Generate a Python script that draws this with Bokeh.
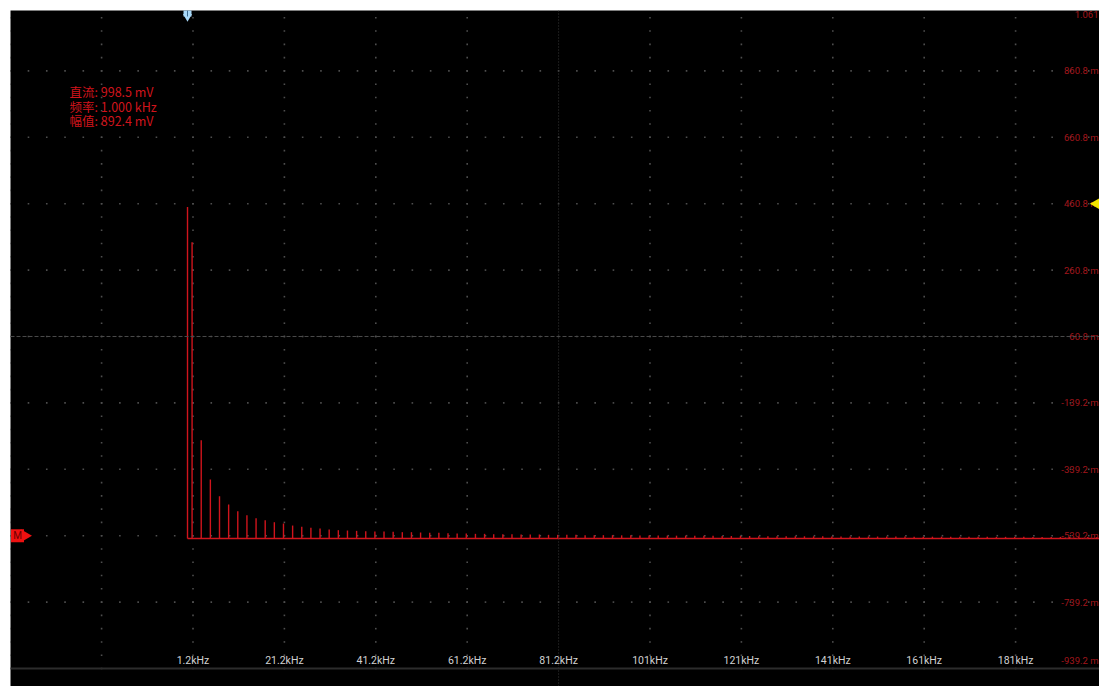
import numpy as np
from bokeh.plotting import figure
from bokeh.models import Range1d, Span, ColumnDataSource
from bokeh.core.properties import value
from bokeh.embed import file_html
from bokeh.resources import INLINE

# ---------------- data ----------------
# frequency of each spectral line (kHz): DC, then the odd harmonics of 1 kHz
harmonic_khz = [0, 1, 3, 5, 7, 9, 11, 13, 15, 17, 19, 21, 23, 25, 27, 29, 31, 33, 35, 37, 39,
                41, 43, 45, 47, 49, 51, 53, 55, 57, 59, 61, 63, 65, 67, 69, 71, 73, 75, 77, 79,
                81, 83, 85, 87, 89, 91, 93, 95, 97, 99, 101, 103, 105, 107, 109, 111, 113, 115,
                117, 119, 121, 123, 125, 127, 129, 131, 133, 135, 137, 139, 141, 143, 145, 147,
                149, 151, 153, 155, 157, 159, 161, 163, 165, 167, 169, 171, 173, 175, 177, 179,
                181, 183, 185, 187, 189, 191, 193, 195, 197, 199]
# line height in mV (display scale 200 mV/div)
amplitude_mv = [998.5, 892.4, 296, 178, 127, 102, 82, 70, 61, 55, 49, 45, 39, 35, 32, 30, 27,
                25, 24, 23, 22, 21, 21, 20, 19, 19, 18, 17, 17, 16, 15, 15, 14, 14, 13, 13, 13,
                12, 12, 12, 11, 11, 11, 11, 10, 10, 10, 10, 9.5, 9.5, 9, 9, 9, 8.5, 8.5, 8.5,
                8, 8, 8, 7.5, 7.5, 7.5, 7.5, 7, 7, 7, 7, 6.8, 6.6, 6.5, 6.4, 6.3, 6.2, 6.1, 6,
                6, 5.9, 5.8, 5.8, 5.7, 5.6, 5.5, 5.5, 5.4, 5.3, 5.3, 5.2, 5.1, 5.1, 5.0, 5.0,
                4.9, 4.9, 4.8, 4.8, 4.7, 4.7, 4.6, 4.6, 4.5, 4.5]

x_grid_khz = [-38.8, -18.8, 1.2, 21.2, 41.2, 61.2, 81.2, 101.2, 121.2, 141.2, 161.2, 181.2, 201.2]
x_label_khz = [1.2, 21.2, 41.2, 61.2, 81.2, 101.2, 121.2, 141.2, 161.2, 181.2]
x_labels = ["1.2kHz", "21.2kHz", "41.2kHz", "61.2kHz", "81.2kHz", "101kHz", "121kHz",
            "141kHz", "161kHz", "181kHz"]

y_grid_mv = [-939.2, -739.2, -539.2, -339.2, -139.2, 60.8, 260.8, 460.8, 660.8, 860.8, 1060.8]
y_labels = ["-939.2 m", "-739.2 m", "-539.2 m", "-339.2 m", "-139.2 m", "60.8 m", "260.8 m",
            "460.8 m", "660.8 m", "860.8 m", "1.061"]

info_lines = ["直流: 998.5 mV", "频率: 1.000 kHz", "幅值: 892.4 mV"]

# ---------------- styling / layout constants ----------------
X_MIN, X_MAX = -38.734, 199.56
Y_MIN, Y_MAX = -993.42, 1042.73
BASE_MV = -547.6          # FFT baseline on screen
CENTER_X, CENTER_Y = 81.2, 60.8
RED = "#d0141c"
LABEL_RED = "#a3161c"

p = figure(width=1099, height=686, x_range=Range1d(X_MIN, X_MAX), y_range=Range1d(Y_MIN, Y_MAX),
           output_backend="svg", toolbar_location=None, x_axis_location=None,
           y_axis_location=None, background_fill_color="black", border_fill_color="white",
           min_border_left=10, min_border_top=10, min_border_right=0, min_border_bottom=0)
p.outline_line_color = None
p.xgrid.visible = False
p.ygrid.visible = False

# ---- graticule dots ----
dot_ys = np.arange(y_grid_mv[0], y_grid_mv[-1] + 1e-6, 40.0)
dot_xs = np.arange(x_grid_khz[0], x_grid_khz[-1] + 1e-6, 4.0)
gx, gy = [], []
for xv in x_grid_khz:
    if abs(xv - CENTER_X) < 1e-6:
        continue
    gx += [xv] * len(dot_ys)
    gy += list(dot_ys)
for yv in y_grid_mv:
    if abs(yv - y_grid_mv[0]) < 1e-6:
        continue
    gx += list(dot_xs)
    gy += [yv] * len(dot_xs)
p.scatter(gx, gy, marker="square", size=1.6, fill_color="#4e4e4e", line_color=None)

# center cross lines and bottom line
p.add_layout(Span(location=CENTER_Y, dimension="width", line_color="#4a4a4a",
                  line_width=1, line_dash="4 2"))
p.add_layout(Span(location=CENTER_X, dimension="height", line_color="#383838",
                  line_width=1, line_dash="1 2"))
p.add_layout(Span(location=y_grid_mv[0], dimension="width", line_color="#2c2c2c",
                  line_width=2))

# ---- spectrum ----
src = ColumnDataSource(dict(
    x=harmonic_khz,
    y0=[BASE_MV] * len(harmonic_khz),
    y1=[BASE_MV + a for a in amplitude_mv],
))
p.segment(x0="x", y0="y0", x1="x", y1="y1", source=src, line_color=RED, line_width=1.4)
p.segment(x0=[harmonic_khz[0]], y0=[BASE_MV], x1=[X_MAX], y1=[BASE_MV],
          line_color=RED, line_width=1.6)

# ---- bottom frequency labels ----
p.text(x=x_label_khz, y=[y_grid_mv[0]] * len(x_label_khz), text=x_labels, y_offset=-8,
       text_align="center", text_baseline="middle", text_font=value("Roboto"),
       text_font_size="10.5px", text_color="#d2d2d2")

# ---- right voltage labels (right-aligned at the screen edge) ----
mid = y_grid_mv[1:-1]
lbl_kw = dict(text_align="right", text_baseline="middle", text_font=value("Roboto"),
              text_font_size="9.5px", text_color=LABEL_RED)
p.text(x=[X_MAX] * len(mid), y=mid, text=y_labels[1:-1], x_offset=-1, **lbl_kw)
p.text(x=[X_MAX], y=[y_grid_mv[0]], text=[y_labels[0]], x_offset=-1, y_offset=-8, **lbl_kw)
p.text(x=[X_MAX], y=[y_grid_mv[-1]], text=[y_labels[-1]], x_offset=-1, y_offset=10, **lbl_kw)

# ---- measurement info ----
info_y = [Y_MAX - 81 / 0.332 - i * 14.6 / 0.332 for i in range(len(info_lines))]
p.text(x=[X_MIN + 59 / 4.57] * len(info_lines), y=info_y, text=info_lines,
       text_align="left", text_baseline="middle", text_font=value("Noto Sans CJK SC"),
       text_font_size="12.5px", text_color=RED)

# ---- screen markers ----
# trigger marker (top, light blue)
p.scatter([harmonic_khz[0]], [Y_MAX - 2 / 0.332], marker="square", size=8,
          fill_color="#a8d8f8", line_color=None)
p.scatter([harmonic_khz[0]], [Y_MAX - 6 / 0.332], marker="inverted_triangle", size=9,
          fill_color="#a8d8f8", line_color=None)
p.segment(x0=[harmonic_khz[0]], y0=[Y_MAX], x1=[harmonic_khz[0]], y1=[Y_MAX - 6 / 0.332],
          line_color="#3a6a90", line_width=1)
# math reference marker (left, red)
m_y = y_grid_mv[2]
p.scatter([X_MIN + 7 / 4.57], [m_y], marker="square", size=13, fill_color="#ee1111",
          line_color=None)
p.scatter([X_MIN + 14 / 4.57], [m_y], marker="triangle", size=13, angle=-np.pi / 2,
          fill_color="#ee1111", line_color=None)
p.text(x=[X_MIN + 7 / 4.57], y=[m_y], text=["M"], text_align="center",
       text_baseline="middle", text_font=value("Roboto"), text_font_size="10px",
       text_color="#6a0000")
# level marker (right, yellow)
p.scatter([X_MAX - 1 / 4.57], [y_grid_mv[7]], marker="triangle", size=15, angle=np.pi / 2,
          fill_color="#f2e600", line_color=None)

open("out.html", "w").write(file_html(p, INLINE))
